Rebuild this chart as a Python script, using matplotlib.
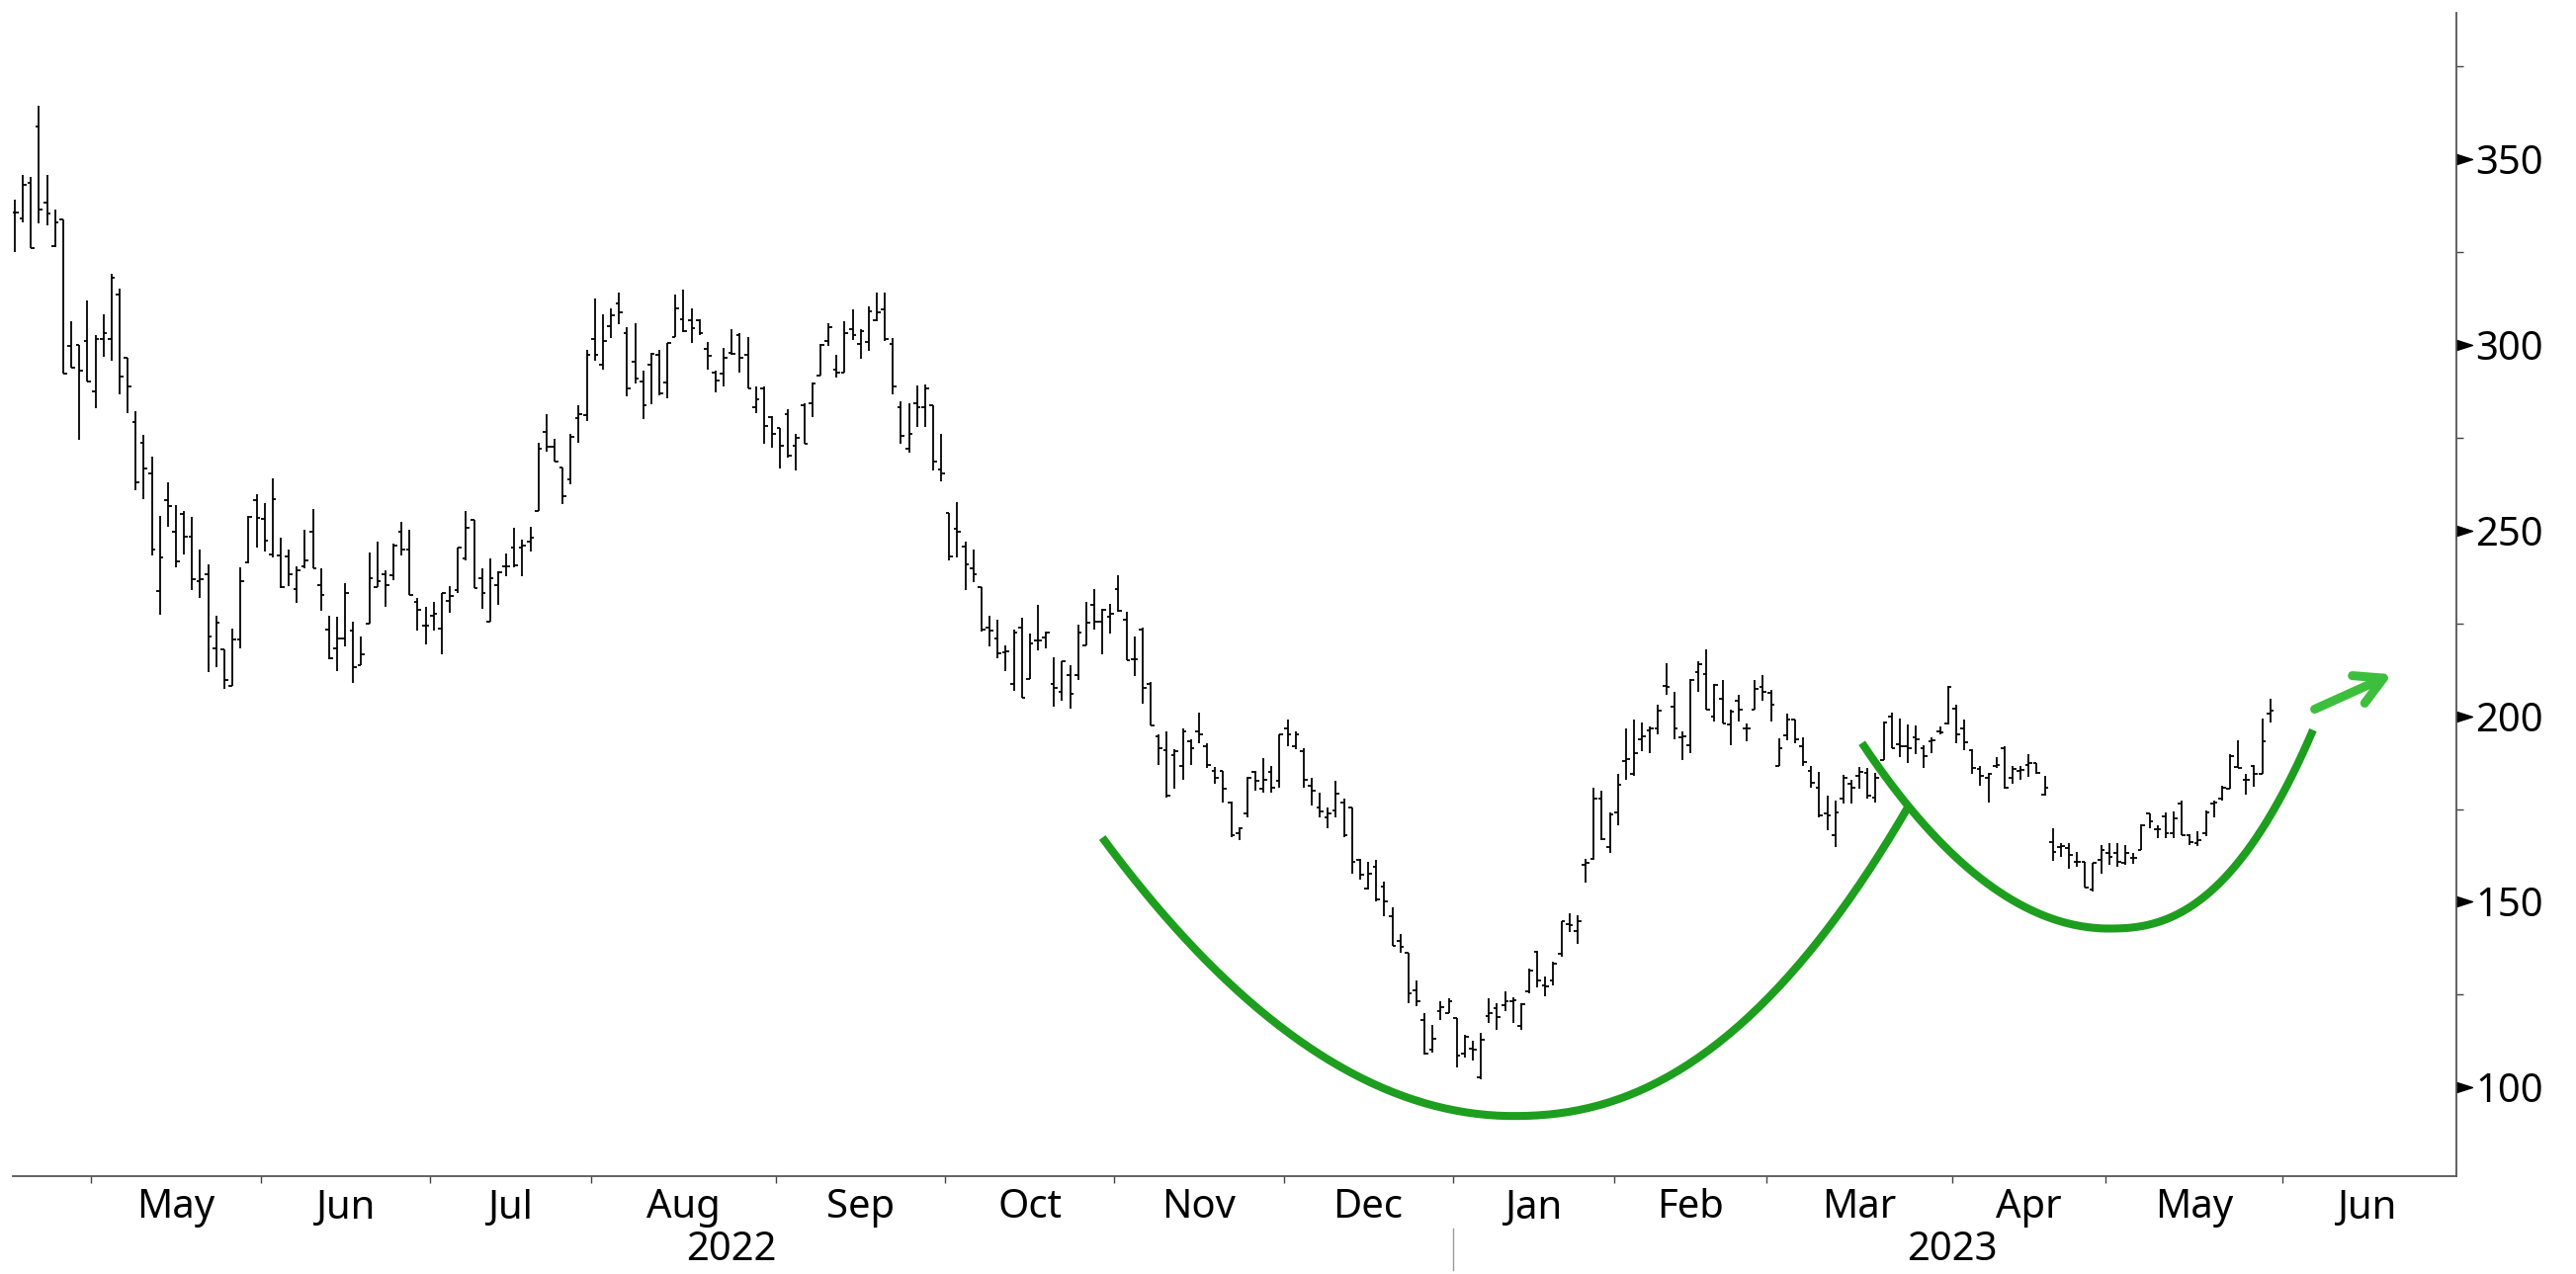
import numpy as np
import matplotlib.pyplot as plt
from matplotlib.path import Path

plt.rcParams['font.family'] = ['Noto Sans', 'DejaVu Sans']

# Barras diarias OHLC (dias de mercado, sin huecos de fin de semana), abr 2022 - may 2023
opens = [
    335.8, 334.0, 343.6, 358.9, 338.5, 326.7, 333.9, 299.7, 300.1, 301.2,
    287.4, 301.5, 301.7, 313.5, 296.6, 279.3, 273.8, 265.3, 233.6, 258.3,
    249.6, 254.5, 248.5, 236.3, 238.2, 218.4, 218.1, 208.1, 220.8, 241.4,
    258.3, 253.2, 243.6, 243.4, 243.0, 234.2, 240.5, 249.6, 235.4, 223.4,
    218.4, 221.0, 223.0, 213.7, 225.0, 234.7, 238.2, 237.9, 249.6, 244.9,
    230.7, 224.5, 227.0, 223.6, 231.1, 234.1, 242.5, 252.9, 237.3, 225.6,
    235.4, 240.5, 245.4, 245.4, 247.0, 255.2, 276.7, 272.7, 266.9, 263.8,
    280.2, 281.0, 301.7, 294.6, 305.2, 311.3, 303.3, 295.5, 290.2, 294.6,
    297.3, 290.0, 302.1, 307.0, 306.8, 306.7, 299.0, 292.5, 292.2, 298.0,
    302.6, 297.5, 283.3, 288.4, 280.7, 277.6, 281.3, 272.9, 283.8, 284.2,
    291.9, 301.1, 293.5, 292.5, 304.4, 300.2, 300.8, 306.8, 309.5, 300.2,
    283.3, 272.2, 284.2, 283.3, 283.8, 266.5, 254.7, 250.5, 245.6, 239.8,
    234.7, 224.0, 221.0, 217.2, 208.6, 223.9, 210.1, 220.3, 221.2, 208.6,
    206.6, 211.0, 211.0, 219.2, 230.1, 225.6, 226.8, 234.3, 226.1, 215.4,
    223.4, 208.6, 194.6, 190.9, 189.5, 186.5, 193.2, 195.9, 191.9, 185.2,
    185.2, 176.8, 168.5, 173.7, 185.0, 180.6, 185.1, 182.6, 196.8, 191.9,
    190.6, 181.3, 175.5, 172.8, 174.6, 176.8, 175.5, 161.3, 153.5, 159.5,
    154.2, 146.2, 139.6, 136.4, 126.2, 118.3, 110.3, 120.5, 120.0, 118.7,
    109.0, 110.5, 102.7, 119.3, 121.4, 122.1, 123.1, 116.5, 126.0, 136.5,
    127.5, 128.7, 136.0, 144.0, 142.2, 160.0, 161.7, 177.7, 164.8, 174.2,
    187.9, 184.4, 193.7, 196.3, 196.8, 208.3, 202.6, 194.3, 192.3, 211.9,
    211.4, 199.9, 204.8, 197.7, 204.1, 196.8, 201.9, 207.9, 206.2, 186.6,
    194.8, 199.0, 191.9, 185.4, 180.8, 173.7, 168.0, 177.7, 181.7, 183.9,
    184.8, 178.2, 188.1, 199.9, 192.4, 191.9, 194.3, 191.5, 193.2, 195.9,
    198.1, 202.1, 196.8, 190.8, 185.7, 183.5, 186.6, 191.5, 183.5, 185.4,
    187.0, 187.5, 179.0, 166.2, 164.8, 164.4, 160.9, 160.9, 153.3, 161.3,
    163.1, 163.1, 160.4, 161.9, 164.1, 173.9, 169.5, 173.0, 168.6, 176.4,
    167.9, 165.7, 168.6, 176.4, 177.7, 180.4, 186.3, 183.0, 186.6, 184.5,
    200.8,
]
highs = [
    339.2, 345.7, 345.2, 364.6, 345.7, 336.5, 333.9, 306.4, 300.1, 312.1,
    302.8, 308.4, 319.1, 315.3, 296.6, 282.3, 275.7, 270.0, 253.9, 262.9,
    257.0, 255.3, 253.7, 245.0, 240.9, 227.1, 218.1, 223.6, 240.1, 253.9,
    259.9, 257.5, 264.2, 248.0, 245.0, 240.5, 250.2, 255.8, 239.8, 227.2,
    226.7, 235.9, 225.6, 221.6, 244.1, 247.1, 239.4, 246.5, 252.3, 250.2,
    231.8, 229.6, 230.7, 233.2, 235.0, 245.4, 255.4, 252.9, 239.8, 242.5,
    239.0, 243.8, 250.7, 247.6, 251.1, 273.6, 281.3, 274.7, 266.9, 276.2,
    283.8, 298.7, 312.6, 308.4, 309.9, 314.1, 304.8, 306.0, 293.1, 298.0,
    298.6, 300.5, 313.5, 315.0, 309.9, 307.0, 300.8, 293.1, 299.3, 304.4,
    303.1, 302.2, 288.8, 288.8, 280.8, 277.7, 282.7, 276.1, 284.4, 290.0,
    300.2, 305.8, 297.5, 306.4, 309.5, 304.2, 310.4, 314.1, 314.1, 302.0,
    284.8, 284.4, 289.1, 289.5, 283.8, 276.2, 254.9, 257.8, 247.1, 245.0,
    234.7, 227.2, 226.1, 219.0, 223.3, 226.5, 222.3, 230.1, 222.8, 215.9,
    214.8, 213.7, 224.8, 230.7, 234.3, 229.0, 230.3, 237.9, 228.1, 221.4,
    223.9, 209.2, 195.0, 195.9, 191.1, 196.8, 193.7, 201.0, 192.8, 186.3,
    185.2, 177.1, 170.2, 183.7, 185.2, 188.8, 186.6, 195.0, 199.0, 195.9,
    191.5, 183.5, 179.5, 175.5, 182.6, 177.7, 175.5, 161.7, 160.8, 161.3,
    155.5, 148.4, 141.3, 136.4, 128.9, 120.1, 116.9, 123.1, 124.0, 118.7,
    114.3, 112.5, 114.7, 124.0, 122.7, 125.8, 124.2, 122.7, 132.0, 136.7,
    129.9, 133.8, 144.9, 146.9, 146.4, 161.5, 180.8, 179.9, 174.2, 184.4,
    196.8, 199.0, 198.4, 197.2, 203.2, 214.4, 206.5, 195.9, 210.1, 214.7,
    218.1, 208.8, 209.8, 201.9, 205.7, 198.1, 209.7, 211.2, 207.2, 194.0,
    200.8, 199.0, 194.3, 186.6, 185.1, 178.6, 177.4, 184.2, 183.0, 186.3,
    186.1, 184.8, 198.6, 201.0, 199.5, 197.7, 197.5, 192.2, 194.3, 197.2,
    208.1, 203.2, 199.0, 191.0, 186.6, 184.8, 189.0, 191.9, 186.6, 186.6,
    189.9, 187.5, 183.9, 169.7, 165.7, 165.7, 163.5, 160.9, 160.4, 165.3,
    165.9, 165.7, 165.3, 163.2, 170.9, 173.9, 170.6, 174.2, 174.4, 177.4,
    168.2, 169.1, 174.6, 177.3, 181.3, 189.7, 193.4, 184.5, 186.9, 199.3,
    204.8,
]
lows = [
    325.1, 333.0, 326.2, 332.8, 332.3, 326.5, 292.3, 293.9, 274.6, 290.3,
    283.0, 296.9, 295.9, 286.6, 281.6, 261.0, 258.6, 243.4, 227.3, 251.0,
    240.1, 243.6, 234.1, 232.0, 211.9, 213.2, 207.5, 208.1, 218.4, 241.2,
    245.4, 244.5, 242.8, 234.5, 235.0, 230.5, 239.8, 239.8, 228.5, 215.3,
    212.1, 218.7, 209.1, 213.7, 225.0, 234.7, 229.5, 236.7, 243.4, 232.7,
    223.0, 219.3, 223.0, 216.8, 228.0, 233.2, 241.9, 234.5, 229.0, 225.6,
    230.1, 237.6, 240.1, 237.6, 244.3, 255.2, 271.3, 268.5, 257.1, 262.6,
    273.6, 279.6, 295.9, 293.4, 302.0, 305.5, 286.2, 289.7, 280.0, 284.0,
    286.4, 285.7, 302.1, 303.5, 300.5, 302.8, 293.4, 287.3, 288.8, 297.3,
    292.5, 288.4, 281.6, 273.3, 272.4, 266.7, 269.8, 266.2, 273.3, 280.5,
    291.9, 299.9, 291.3, 292.5, 301.3, 296.4, 298.4, 306.4, 301.1, 286.7,
    273.3, 270.9, 278.0, 278.0, 266.2, 263.4, 241.9, 242.8, 234.1, 236.0,
    222.8, 218.7, 215.7, 212.2, 206.8, 205.1, 210.1, 217.8, 218.3, 202.6,
    204.3, 202.0, 209.9, 219.0, 223.3, 216.8, 222.3, 228.1, 215.2, 210.7,
    203.5, 197.4, 187.0, 178.0, 180.5, 183.0, 187.0, 192.8, 186.1, 181.7,
    176.8, 167.5, 166.6, 172.8, 179.9, 179.5, 179.5, 180.8, 191.9, 191.2,
    180.8, 175.9, 172.8, 169.7, 172.8, 167.5, 157.7, 155.9, 153.3, 150.2,
    146.2, 138.2, 136.4, 122.7, 121.8, 108.9, 109.4, 118.3, 120.0, 105.4,
    108.0, 107.2, 102.3, 117.4, 115.6, 120.5, 117.4, 115.6, 125.4, 127.0,
    124.5, 127.4, 135.1, 141.8, 138.7, 155.3, 161.2, 166.6, 163.1, 170.6,
    183.0, 183.9, 190.7, 190.1, 195.0, 205.7, 193.7, 188.1, 190.1, 206.5,
    201.9, 198.6, 198.1, 192.2, 198.6, 193.2, 201.9, 204.3, 198.5, 186.6,
    193.4, 192.8, 186.6, 180.8, 172.8, 169.3, 164.7, 176.4, 176.4, 180.6,
    177.7, 176.8, 188.1, 191.3, 189.0, 187.5, 189.7, 186.1, 190.1, 195.2,
    197.9, 192.8, 190.8, 184.5, 181.3, 176.8, 186.1, 180.6, 181.7, 183.0,
    183.7, 184.4, 178.6, 161.1, 162.2, 158.8, 159.5, 153.8, 152.9, 157.7,
    159.9, 159.5, 159.9, 160.2, 164.1, 169.7, 167.1, 167.1, 167.1, 167.9,
    165.3, 165.0, 167.7, 172.8, 177.3, 180.4, 186.1, 179.0, 181.0, 184.5,
    198.4,
]
closes = [
    335.8, 343.1, 326.2, 336.5, 335.4, 333.0, 292.3, 293.9, 293.2, 290.3,
    301.5, 303.2, 318.2, 291.4, 288.8, 263.0, 266.7, 245.0, 242.8, 256.6,
    241.8, 248.3, 236.9, 236.9, 221.6, 225.1, 209.7, 220.6, 236.3, 253.7,
    253.4, 247.4, 258.6, 234.7, 238.2, 239.4, 241.9, 239.8, 232.7, 215.7,
    221.0, 233.2, 213.2, 216.8, 237.3, 236.3, 235.4, 246.0, 244.9, 232.7,
    228.8, 224.5, 227.7, 233.2, 232.3, 245.4, 250.9, 234.5, 233.2, 237.3,
    238.8, 240.5, 240.7, 245.9, 248.1, 272.1, 272.7, 268.5, 259.2, 275.2,
    281.3, 297.5, 297.5, 301.1, 307.9, 308.9, 288.4, 291.0, 283.8, 297.7,
    287.1, 300.5, 309.9, 303.7, 304.6, 303.1, 297.1, 290.4, 296.6, 297.7,
    296.6, 288.4, 285.4, 278.3, 276.2, 272.9, 270.2, 275.1, 273.3, 289.7,
    300.0, 304.8, 292.5, 303.1, 302.6, 303.7, 309.1, 308.7, 301.5, 288.9,
    275.6, 276.2, 283.3, 288.4, 268.5, 265.4, 243.0, 249.6, 241.0, 238.2,
    223.3, 223.0, 216.9, 217.5, 222.5, 205.1, 219.6, 220.5, 222.5, 207.6,
    214.8, 206.1, 222.5, 225.2, 225.6, 228.6, 227.6, 228.3, 215.2, 215.4,
    207.7, 197.4, 191.3, 178.5, 190.5, 196.0, 191.5, 195.0, 187.0, 183.5,
    180.4, 167.9, 169.7, 183.5, 182.6, 183.0, 180.8, 195.0, 195.0, 195.0,
    183.0, 179.9, 174.4, 173.7, 179.2, 167.9, 160.8, 157.3, 157.7, 150.6,
    150.2, 138.2, 137.8, 125.4, 123.3, 109.1, 113.0, 121.5, 123.3, 108.5,
    113.6, 110.3, 112.9, 120.0, 119.1, 123.2, 123.5, 122.4, 131.5, 128.8,
    127.3, 133.4, 144.9, 143.8, 144.9, 160.5, 177.7, 166.8, 173.5, 181.5,
    188.4, 190.1, 194.5, 196.8, 201.4, 207.8, 196.8, 194.5, 209.7, 214.1,
    201.9, 208.5, 198.1, 201.2, 201.9, 196.8, 207.4, 206.5, 203.2, 191.3,
    199.0, 193.7, 187.7, 182.1, 173.3, 173.3, 174.2, 183.5, 180.8, 185.1,
    178.6, 183.5, 198.4, 191.3, 192.0, 191.5, 193.9, 189.3, 193.4, 195.7,
    207.9, 195.0, 193.1, 186.0, 184.0, 184.5, 186.8, 180.8, 185.7, 185.5,
    187.3, 184.8, 180.8, 163.5, 165.0, 162.6, 160.7, 153.8, 160.4, 163.9,
    162.2, 160.9, 163.1, 161.9, 170.6, 171.7, 169.5, 168.4, 172.4, 167.9,
    166.2, 166.6, 174.2, 176.8, 180.8, 189.2, 186.1, 183.0, 184.5, 193.2,
    201.4,
]

# Meses: etiqueta y primera barra de cada mes (indice de dia de mercado)
month_labels = ['May', 'Jun', 'Jul', 'Aug', 'Sep', 'Oct', 'Nov', 'Dec',
                'Jan', 'Feb', 'Mar', 'Apr', 'May', 'Jun']
month_first_bar = [10, 31, 52, 72, 95, 116, 137, 158, 179, 199, 218, 241, 260, 282]
month_end_bar = 303          # fin del mes de junio 2023
year_labels = ['2022', '2023']
year_first_bar = [0, 179]

# Curvas verdes (taza y asa): inicio, fondo, final en (barra, precio)
cup = [(135.0, 167.3), (186.0, 92.3), (235.2, 176.2)]
handle = [(229.3, 192.8), (260.0, 142.8), (285.3, 196.3)]
arrow_from = (285.5, 201.9)
arrow_to = (295.1, 211.3)

assert len(opens) == len(highs) == len(lows) == len(closes)
x = np.arange(len(closes))


def arc(pts, p_left, p_right, n=80):
    (i0, v0), (ib, vb), (i1, v1) = pts
    il = np.linspace(i0, ib, n)
    vl = vb + (v0 - vb) * ((ib - il) / (ib - i0)) ** p_left
    ir = np.linspace(ib, i1, n)
    vr = vb + (v1 - vb) * ((ir - ib) / (i1 - ib)) ** p_right
    return np.concatenate([il, ir]), np.concatenate([vl, vr])


fig = plt.figure(figsize=(26.06, 12.89), dpi=100)
ax = fig.add_axes([13 / 2606, 99 / 1289, 2472 / 2606, 1177 / 1289])

# barras OHLC
ax.vlines(x, lows, highs, color='black', lw=1.3)
ax.hlines(opens, x - 0.45, x, color='black', lw=1.3)
ax.hlines(closes, x, x + 0.45, color='black', lw=1.3)

# curvas verdes
green = '#1e9e1e'
cx, cy = arc(cup, 2.0, 2.2)
ax.plot(cx, cy, color=green, lw=5.8, solid_capstyle='butt', zorder=5)
hx, hy = arc(handle, 2.0, 2.4)
ax.plot(hx, hy, color=green, lw=5.8, solid_capstyle='butt', zorder=5)
ax.annotate('', xy=arrow_to, xytext=arrow_from,
            arrowprops=dict(arrowstyle='->,head_length=1.0,head_width=0.55',
                            color='#3dbf3d', lw=6.5, mutation_scale=20,
                            shrinkA=0, shrinkB=0),
            zorder=5)

ax.set_xlim(-0.25, 303.1)
ax.set_ylim(76.1, 389.5)

# eje y a la derecha
ax.spines['top'].set_visible(False)
ax.spines['left'].set_visible(False)
for s in ['right', 'bottom']:
    ax.spines[s].set_color('#555555')
    ax.spines[s].set_linewidth(1.3)

yt = list(range(100, 351, 50))
ax.yaxis.tick_right()
ax.set_yticks(yt)
ax.set_yticks(range(125, 376, 50), minor=True)
ax.tick_params(axis='y', which='major', length=11.5, width=0, pad=2.5,
               labelsize=28.8, right=True, left=False)
ax.tick_params(axis='y', which='minor', length=5, width=1, color='#444444',
               right=True, left=False)
tri = Path([(0, -0.32), (1, 0), (0, 0.32), (0, -0.32)],
           [Path.MOVETO, Path.LINETO, Path.LINETO, Path.CLOSEPOLY])
ax.plot(np.ones(len(yt)), yt, ls='none', marker=tri, ms=23, color='black',
        transform=ax.get_yaxis_transform(), clip_on=False)

# eje x: marcas en cambios de mes, etiquetas centradas
bounds = [b - 0.5 for b in month_first_bar]
ax.set_xticks(bounds)
ax.set_xticklabels([])
ends = month_first_bar[1:] + [month_end_bar]
centers = [(a + b - 1) / 2 for a, b in zip(month_first_bar, ends)]
ax.set_xticks(centers, minor=True)
ax.set_xticklabels(month_labels, minor=True)
ax.tick_params(axis='x', which='major', length=5, width=1, color='#444444')
ax.tick_params(axis='x', which='minor', length=0, pad=9, labelsize=28.8)

year_ends = year_first_bar[1:] + [month_end_bar]
for lab, a, b in zip(year_labels, year_first_bar, year_ends):
    ax.annotate(lab, xy=((a + b - 1) / 2, 0), xycoords=('data', 'axes fraction'),
                xytext=(0, -54), textcoords='offset points',
                ha='center', va='center', fontsize=28.8)
for b in year_first_bar[1:]:
    ax.plot([b - 0.5, b - 0.5], [-0.045, -0.081], color='#999999', lw=1,
            transform=ax.get_xaxis_transform(), clip_on=False)

fig.savefig('out.png', dpi=100)
